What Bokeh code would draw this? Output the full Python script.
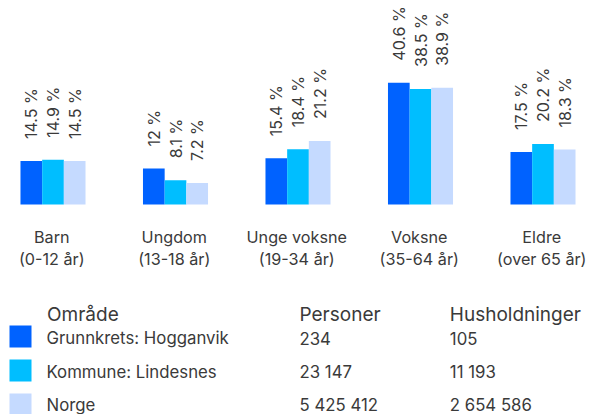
import numpy as np
from bokeh.plotting import figure
from bokeh.layouts import column
from bokeh.models import Range1d, ColumnDataSource
from bokeh.core.properties import value
from bokeh.embed import file_html
from bokeh.resources import INLINE

categories = ["Barn", "Ungdom", "Unge voksne", "Voksne", "Eldre"]
age_ranges = ["(0-12 år)", "(13-18 år)", "(19-34 år)", "(35-64 år)", "(over 65 år)"]
series_names = ["Grunnkrets: Hogganvik", "Kommune: Lindesnes", "Norge"]
hogganvik = [14.5, 12.0, 15.4, 40.6, 17.5]
lindesnes = [14.9, 8.1, 18.4, 38.5, 20.2]
norge = [14.5, 7.2, 21.2, 38.9, 18.3]
hogganvik_labels = ["14.5 %", "12 %", "15.4 %", "40.6 %", "17.5 %"]
lindesnes_labels = ["14.9 %", "8.1 %", "18.4 %", "38.5 %", "20.2 %"]
norge_labels = ["14.5 %", "7.2 %", "21.2 %", "38.9 %", "18.3 %"]
personer = ["234", "23 147", "5 425 412"]
husholdninger = ["105", "11 193", "2 654 586"]
colors = ["#0062FF", "#00BEFF", "#C5DAFF"]

FONT = "Inter"
TEXT = "#3a3a3a"

W = 594
H1 = 288
H2 = 126

p = figure(width=W, height=H1, output_backend="svg", toolbar_location=None,
           x_range=Range1d(-0.4286, 4.4204), y_range=Range1d(-28, 68),
           min_border_left=0, min_border_right=0, min_border_top=0, min_border_bottom=0)
p.axis.visible = False
p.grid.visible = False
p.outline_line_color = None
p.background_fill_color = None
p.border_fill_color = None

xs = np.arange(len(categories))
bw = 0.177
series = [hogganvik, lindesnes, norge]
labels = [hogganvik_labels, lindesnes_labels, norge_labels]
for k, (vals, labs) in enumerate(zip(series, labels)):
    off = (k - 1) * bw
    src = ColumnDataSource(dict(x=xs + off, top=vals, lab=labs))
    p.vbar(x="x", top="top", bottom=0, width=bw, source=src,
           fill_color=colors[k], line_color=None)
    p.text(x="x", y="top", text="lab", source=src, angle=np.pi / 2,
           text_align="left", text_baseline="middle", y_offset=-22,
           text_font=value(FONT), text_font_size="16px", text_color=TEXT)

csrc = ColumnDataSource(dict(x=xs - 0.01, y=[0] * len(xs), c=categories, a=age_ranges))
p.text(x="x", y="y", text="c", source=csrc, y_offset=32, text_align="center",
       text_baseline="alphabetic", text_font=value(FONT), text_font_size="16.2px", text_color=TEXT)
p.text(x="x", y="y", text="a", source=csrc, y_offset=54, text_align="center",
       text_baseline="alphabetic", text_font=value(FONT), text_font_size="16.2px", text_color=TEXT)

# table / legend
t = figure(width=W, height=H2, output_backend="svg", toolbar_location=None,
           x_range=Range1d(0, W), y_range=Range1d(H2, 0),
           min_border_left=0, min_border_right=0, min_border_top=0, min_border_bottom=0)
t.axis.visible = False
t.grid.visible = False
t.outline_line_color = None
t.background_fill_color = None
t.border_fill_color = None

row_y = [49.5, 83.5, 116.8]
t.rect(x=[20] * 3, y=[48, 82, 116], width=22, height=22, fill_color=colors, line_color=None)
hdr = ColumnDataSource(dict(x=[46.5, 299, 449.3], y=[25.5] * 3, t=["Område", "Personer", "Husholdninger"]))
t.text(x="x", y="y", text="t", source=hdr, text_align="left", text_baseline="alphabetic",
       text_font=value(FONT), text_font_size="19px", text_color=TEXT)
rows = ColumnDataSource(dict(y=row_y, n=series_names, p=personer, h=husholdninger))
for col, xx in (("n", 46), ("p", 299), ("h", 449.3)):
    t.text(x=xx, y="y", text=col, source=rows, text_align="left", text_baseline="alphabetic",
           text_font=value(FONT), text_font_size="16.8px", text_color=TEXT)

layout = column(p, t, spacing=0)
open("out.html", "w").write(file_html(layout, INLINE))
